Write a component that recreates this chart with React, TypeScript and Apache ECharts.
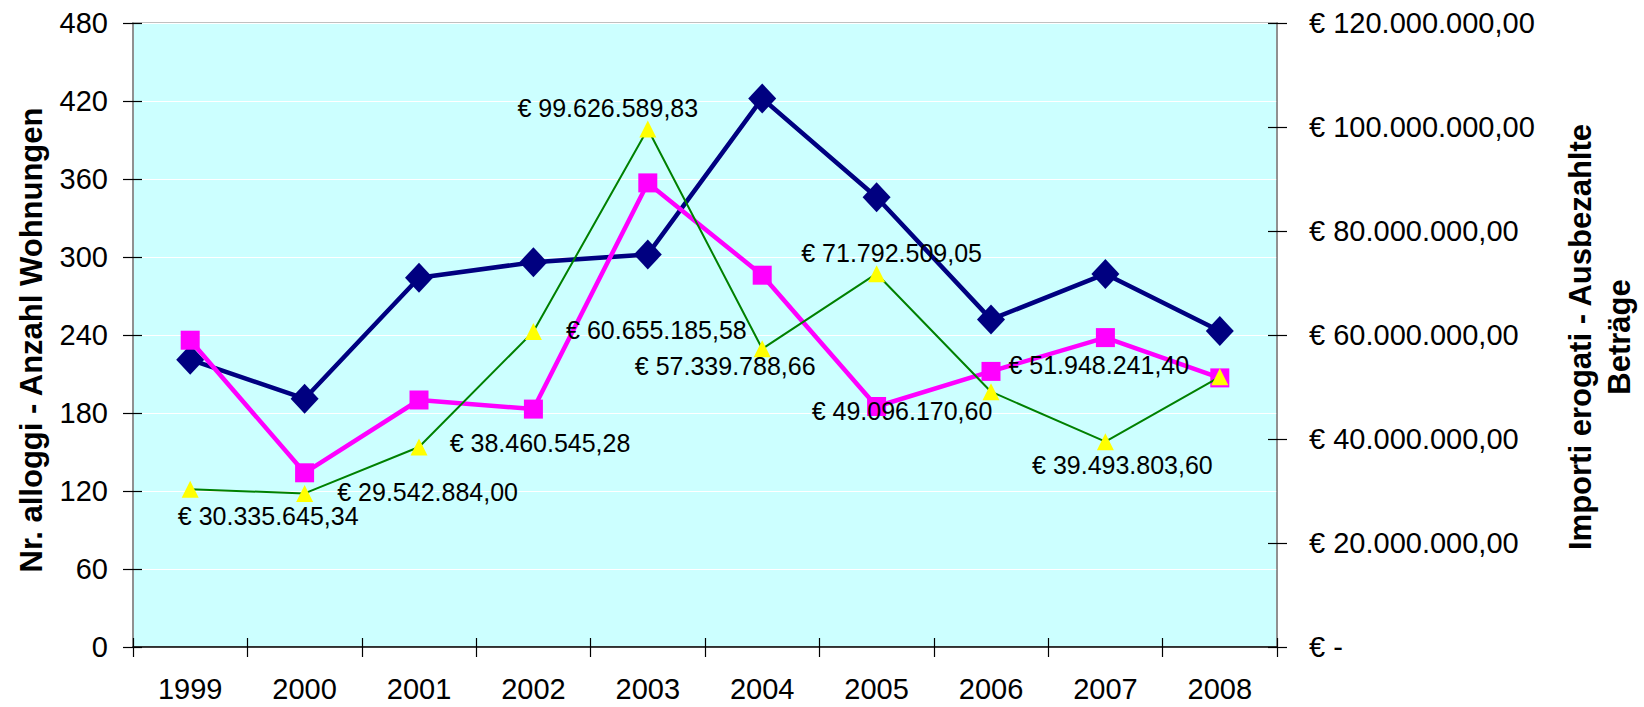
import React, { useEffect, useRef } from "react";
import * as echarts from "echarts";

const years = ["1999", "2000", "2001", "2002", "2003", "2004", "2005", "2006", "2007", "2008"];
const alloggi = [221, 191, 284, 296, 302, 422, 346, 252, 287, 243];
const serie2 = [236, 134, 190, 183, 357, 286, 185, 212, 238, 207];
const importi = [
  30335645.34, 29542884.0, 38460545.28, 60655185.58, 99626589.83,
  57339788.66, 71792509.05, 49096170.6, 39493803.6, 51948241.4,
];
const leftMin = 0;
const leftMax = 480;
const leftInterval = 60;
const rightMin = 0;
const rightMax = 120000000;
const rightInterval = 20000000;

// label placement (style only): offset of each euro label from its marker
const labelOffsets: [number, number][] = [
  [78, 27], [123, -1], [121, -4], [123, -2], [-40, -21],
  [-37, 17], [15, -21], [-89, 19], [17, 23], [-121, -12],
];

const FONT = 'Arial, "Liberation Sans", sans-serif';

function fmtEuro(v: number): string {
  if (v === 0) return "€ -";
  const fixed = v.toFixed(2);
  const [ip, dp] = fixed.split(".");
  const withDots = ip.replace(/\B(?=(\d{3})+(?!\d))/g, ".");
  return "€ " + withDots + "," + dp;
}

export default function App() {
  const ref = useRef<HTMLDivElement>(null);
  useEffect(() => {
    if (!ref.current) return;
    const chart = echarts.init(ref.current, null, { renderer: "svg" });
    const tickLabel = { fontSize: 29, color: "#000", fontFamily: FONT };
    chart.setOption({
      animation: false,
      backgroundColor: "#ffffff",
      grid: {
        left: 133,
        right: 367,
        top: 23,
        bottom: 60,
        show: true,
        backgroundColor: "#CCFFFF",
        borderColor: "#C0C0C0",
        borderWidth: 2,
      },
      xAxis: [
        {
          type: "category",
          data: years,
          position: "bottom",
          boundaryGap: true,
          axisLine: { show: true, lineStyle: { color: "#000", width: 1.5 } },
          axisTick: { show: true, inside: false, length: 10, lineStyle: { color: "#000", width: 1.2 } },
          axisLabel: { ...tickLabel, margin: 27 },
          splitLine: { show: false },
        },
        {
          type: "category",
          data: years,
          position: "bottom",
          boundaryGap: true,
          axisLine: { show: false },
          axisTick: { show: true, inside: true, length: 9, lineStyle: { color: "#000", width: 1.2 } },
          axisLabel: { show: false },
          splitLine: { show: false },
        },
      ],
      yAxis: [
        {
          type: "value",
          position: "left",
          min: leftMin,
          max: leftMax,
          interval: leftInterval,
          axisLine: { show: true, lineStyle: { color: "#808080", width: 1.5 } },
          axisTick: { show: true, inside: false, length: 10, lineStyle: { color: "#000", width: 1.2 } },
          axisLabel: { ...tickLabel, margin: 25 },
          splitLine: { show: true, lineStyle: { color: "#ffffff", width: 1.2 } },
        },
        {
          type: "value",
          position: "right",
          min: rightMin,
          max: rightMax,
          interval: rightInterval,
          axisLine: { show: true, lineStyle: { color: "#808080", width: 1.5 } },
          axisTick: { show: true, inside: false, length: 10, lineStyle: { color: "#000", width: 1.2 } },
          axisLabel: { ...tickLabel, margin: 32, formatter: (v: number) => fmtEuro(v) },
          splitLine: { show: false },
        },
        {
          type: "value",
          position: "left",
          min: leftMin,
          max: leftMax,
          interval: leftInterval,
          axisLine: { show: false },
          axisTick: { show: true, inside: true, length: 9, lineStyle: { color: "#000", width: 1.2 } },
          axisLabel: { show: false },
          splitLine: { show: false },
        },
        {
          type: "value",
          position: "right",
          min: rightMin,
          max: rightMax,
          interval: rightInterval,
          axisLine: { show: false },
          axisTick: { show: true, inside: true, length: 9, lineStyle: { color: "#000", width: 1.2 } },
          axisLabel: { show: false },
          splitLine: { show: false },
        },
      ],
      graphic: [
        {
          type: "text",
          x: 31,
          y: 340,
          rotation: Math.PI / 2,
          style: {
            text: "Nr. alloggi - Anzahl Wohnungen",
            font: `bold 31px ${FONT}`,
            fill: "#000",
            align: "center",
            verticalAlign: "middle",
          },
        },
        {
          type: "text",
          x: 1600,
          y: 337,
          rotation: Math.PI / 2,
          style: {
            text: "Importi erogati - Ausbezahlte\nBeträge",
            font: `bold 31px ${FONT}`,
            fill: "#000",
            align: "center",
            verticalAlign: "middle",
            lineHeight: 39,
          },
        },
      ],
      series: [
        {
          name: "Nr. alloggi",
          type: "line",
          xAxisIndex: 0,
          yAxisIndex: 0,
          data: alloggi,
          symbol: "diamond",
          symbolSize: [28, 30],
          lineStyle: { color: "#000080", width: 4.5 },
          itemStyle: { color: "#000080", borderWidth: 0 },
          z: 2,
        },
        {
          name: "Serie 2",
          type: "line",
          xAxisIndex: 0,
          yAxisIndex: 0,
          data: serie2,
          symbol: "rect",
          symbolSize: 19,
          lineStyle: { color: "#FF00FF", width: 4.5 },
          itemStyle: { color: "#FF00FF", borderWidth: 0 },
          z: 3,
        },
        {
          name: "Importi erogati",
          type: "line",
          xAxisIndex: 0,
          yAxisIndex: 1,
          data: importi.map((v, i) => ({ value: v, label: { offset: labelOffsets[i] } })),
          symbol: "triangle",
          symbolSize: 17,
          lineStyle: { color: "#008000", width: 2 },
          itemStyle: { color: "#FFFF00", borderWidth: 0 },
          label: {
            show: true,
            position: "inside",
            align: "center",
            verticalAlign: "middle",
            fontSize: 25,
            fontFamily: FONT,
            color: "#000",
            formatter: (p: any) => fmtEuro(p.value),
          },
          z: 4,
        },
      ],
    });
    return () => chart.dispose();
  }, []);
  return (
    <div
      ref={ref}
      style={{ position: "fixed", left: 0, top: 0, width: 1644, height: 707, background: "#fff" }}
    />
  );
}
